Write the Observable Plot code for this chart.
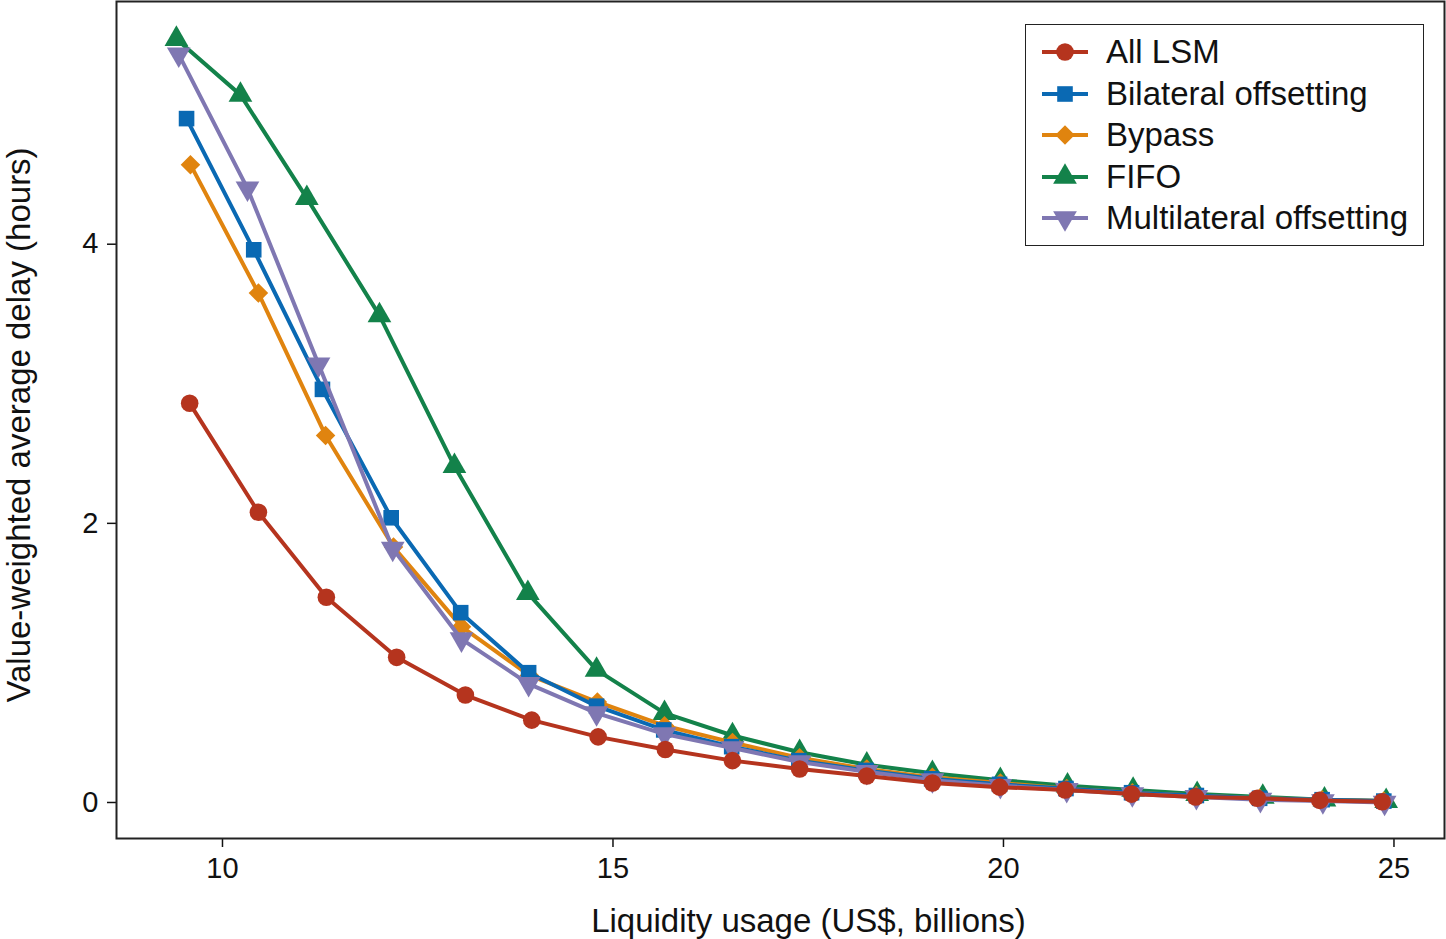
<!DOCTYPE html>
<html>
<head>
<meta charset="utf-8">
<script src="https://cdn.jsdelivr.net/npm/d3@7"></script>
<script src="https://cdn.jsdelivr.net/npm/@observablehq/plot@0.6"></script>
<style>
  html, body { margin: 0; padding: 0; background: #fff; }
  #wrap { position: relative; width: 1446px; height: 939px; font-family: "Liberation Sans", Arial, sans-serif; }
  #legend { position: absolute; left: 1025px; top: 24px; width: 399px; height: 222px; border: 1.5px solid #222; background: #fff; box-sizing: border-box; }
  .row { position: absolute; left: 0; height: 40px; display: flex; align-items: center; }
  .row svg { margin-left: 15px; }
  .row span { margin-left: 17px; font-size: 33px; color: #111; white-space: nowrap; }
</style>
</head>
<body>
<div id="wrap"><div id="chart"></div><div id="legend"></div></div>
<script>
const seriesNames = ["All LSM", "Bilateral offsetting", "Bypass", "FIFO", "Multilateral offsetting"];
const seriesColors = ["#b5341e", "#0a69b3", "#e0840f", "#13824a", "#7f77b2"];
const seriesSymbols = ["circle", "square", "diamond2", "triangle", "triangle"];
const seriesRotate = [0, 0, 0, 0, 180];

const xTicks = [10, 15, 20, 25];
const yTicks = [0, 2, 4];

const allLsmX = [9.58,10.46,11.33,12.23,13.11,13.96,14.81,15.67,16.53,17.39,18.25,19.09,19.95,20.79,21.64,22.46,23.25,24.05,24.85];
const allLsmY = [2.86,2.08,1.47,1.04,0.77,0.59,0.47,0.38,0.30,0.24,0.19,0.14,0.11,0.09,0.06,0.04,0.03,0.015,0.005];

const bilateralX = [9.54,10.40,11.28,12.16,13.05,13.92,14.79,15.65,16.52,17.38,18.24,19.08,19.95,20.80,21.64,22.47,23.28,24.08,24.87];
const bilateralY = [4.90,3.96,2.96,2.04,1.36,0.93,0.69,0.52,0.40,0.30,0.23,0.17,0.13,0.10,0.07,0.05,0.03,0.02,0.01];

const bypassX = [9.59,10.46,11.32,12.19,13.06,13.93,14.80,15.66,16.53,17.39,18.25,19.09,19.96,20.81,21.65,22.47,23.28,24.08,24.87];
const bypassY = [4.57,3.65,2.63,1.83,1.26,0.91,0.72,0.55,0.43,0.32,0.24,0.18,0.14,0.10,0.07,0.05,0.03,0.02,0.01];

const fifoX = [9.41,10.23,11.08,12.01,12.97,13.91,14.79,15.66,16.53,17.39,18.25,19.09,19.96,20.82,21.66,22.48,23.32,24.11,24.90];
const fifoY = [5.47,5.07,4.33,3.49,2.41,1.50,0.95,0.64,0.48,0.36,0.27,0.21,0.16,0.12,0.09,0.06,0.04,0.02,0.01];

const multilateralX = [9.44,10.32,11.23,12.18,13.06,13.92,14.79,15.66,16.53,17.39,18.25,19.09,19.96,20.81,21.65,22.47,23.29,24.09,24.88];
const multilateralY = [5.36,4.40,3.14,1.82,1.17,0.85,0.64,0.49,0.39,0.29,0.22,0.16,0.12,0.09,0.06,0.04,0.02,0.01,0.00];

const seriesX = [allLsmX, bilateralX, bypassX, fifoX, multilateralX];
const seriesY = [allLsmY, bilateralY, bypassY, fifoY, multilateralY];

const rows = seriesNames.map((name, i) => seriesX[i].map((x, j) => ({series: name, x, y: seriesY[i][j]})));

// drawing order: FIFO, Bypass, Bilateral, Multilateral, All LSM
const drawOrder = [3, 2, 1, 4, 0];
const marks = [];
for (const i of drawOrder) {
  marks.push(Plot.line(rows[i], {x: "x", y: "y", stroke: seriesColors[i], strokeWidth: 4}));
  marks.push(Plot.dot(rows[i], {x: "x", y: "y", fill: seriesColors[i], stroke: "none", r: 8.8, symbol: seriesSymbols[i], rotate: seriesRotate[i]}));
}

const chart = Plot.plot({
  width: 1446,
  height: 939,
  marginLeft: 116,
  marginRight: 2,
  marginTop: 1,
  marginBottom: 101,
  style: {fontFamily: "'Liberation Sans', Arial, sans-serif", fontSize: "29px", background: "#fff", color: "#111"},
  x: {domain: [8.643, 25.647]},
  y: {domain: [-0.258, 5.739]},
  marks: [
    Plot.axisX({ticks: xTicks, tickFormat: d => String(d), tickSize: 9, tickPadding: 10, strokeWidth: 1.5,
      label: "Liquidity usage (US$, billions)", labelAnchor: "center", labelArrow: "none", labelOffset: 93}),
    Plot.axisY({ticks: yTicks, tickFormat: d => String(d), tickSize: 9, tickPadding: 9, strokeWidth: 1.5,
      label: "Value-weighted average delay (hours)", labelAnchor: "center", labelArrow: "none", labelOffset: 110}),
    ...marks,
    Plot.frame({stroke: "#222", strokeWidth: 2})
  ]
});
chart.querySelectorAll("g[aria-label='x-axis tick label'], g[aria-label='y-axis tick label']").forEach(g => {
  g.setAttribute("font-size", "29");
  g.style.fontSize = "29px";
});
chart.querySelectorAll("g[aria-label='x-axis label'], g[aria-label='y-axis label']").forEach(g => {
  g.setAttribute("font-size", "33");
  g.style.fontSize = "33px";
});
chart.querySelectorAll("g[aria-label='x-axis label'] text").forEach(t => {
  t.setAttribute("transform", (t.getAttribute("transform") || "") + " translate(28,0)");
});
chart.querySelectorAll("g[aria-label='y-axis label'] text").forEach(t => {
  t.setAttribute("transform", (t.getAttribute("transform") || "") + " translate(-5,0)");
});
document.getElementById("chart").appendChild(chart);

// legend
const legend = document.getElementById("legend");
const area = Math.PI * 8.8 * 8.8;
const symPaths = {
  circle: d3.symbol(d3.symbolCircle, area)(),
  square: d3.symbol(d3.symbolSquare, area)(),
  diamond2: d3.symbol(d3.symbolDiamond2, area)(),
  triangle: d3.symbol(d3.symbolTriangle, area)()
};
seriesNames.forEach((name, i) => {
  const row = document.createElement("div");
  row.className = "row";
  row.style.top = (7 + i * 41.5) + "px";
  row.innerHTML = `<svg width="48" height="30" viewBox="-24 -15 48 30">
    <line x1="-23" x2="23" y1="0" y2="0" stroke="${seriesColors[i]}" stroke-width="4"/>
    <path d="${symPaths[seriesSymbols[i]]}" fill="${seriesColors[i]}" transform="rotate(${seriesRotate[i]})"/>
  </svg><span>${name}</span>`;
  legend.appendChild(row);
});
</script>
</body>
</html>
